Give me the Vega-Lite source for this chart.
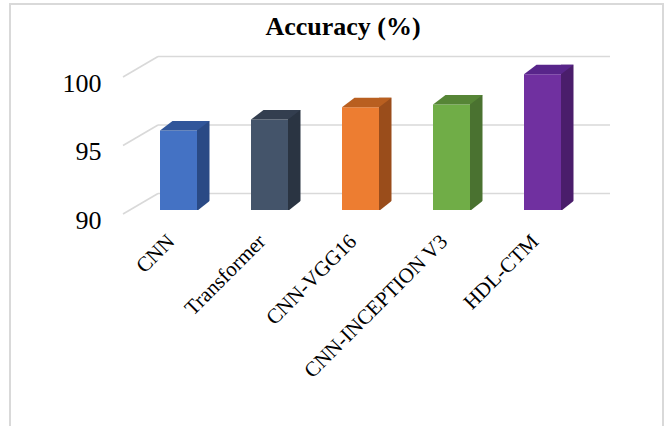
{
  "$schema": "https://vega.github.io/schema/vega-lite/v6.json",
  "autosize": "none",
  "padding": {"left": 10, "top": 4, "right": 2, "bottom": 0},
  "width": 653,
  "height": 430,
  "background": "white",
  "title": {
    "text": "Accuracy (%)",
    "font": "Liberation Serif",
    "fontSize": 26,
    "fontWeight": "bold",
    "color": "#000000",
    "anchor": "middle",
    "frame": "group",
    "offset": 0,
    "dx": 6.5,
    "dy": 36
  },
  "datasets": {
    "models": [
      {"model": "CNN", "accuracy": 95.8},
      {"model": "Transformer", "accuracy": 96.6},
      {"model": "CNN-VGG16", "accuracy": 97.5},
      {"model": "CNN-INCEPTION V3", "accuracy": 97.7},
      {"model": "HDL-CTM", "accuracy": 99.9}
    ],
    "grid": [{"level": 90}, {"level": 95}, {"level": 100}]
  },
  "layer": [
    {
      "description": "back-wall gridlines",
      "data": {"name": "grid"},
      "mark": {"type": "rule", "color": "#d9d9d9", "strokeWidth": 1.6, "xOffset": 25, "x2Offset": 22, "yOffset": -16.5},
      "encoding": {
        "x": {"datum": "CNN", "type": "nominal", "bandPosition": 0,
              "scale": {"domain": ["CNN", "Transformer", "CNN-VGG16", "CNN-INCEPTION V3", "HDL-CTM"],
                        "range": [123, 578], "paddingInner": 0, "paddingOuter": 0}},
        "x2": {"datum": "HDL-CTM", "bandPosition": 1},
        "y": {"field": "level", "type": "quantitative", "title": null,
              "axis": {"values": [90, 95, 100]},
              "scale": {"domain": [90, 100], "range": [206, 69], "nice": false, "zero": false}}
      }
    },
    {
      "description": "side-wall slants of the gridlines",
      "data": {"name": "grid"},
      "mark": {"type": "rule", "color": "#d9d9d9", "strokeWidth": 1.6, "xOffset": -10, "x2Offset": 25, "yOffset": 4, "y2Offset": -16.5},
      "encoding": {
        "x": {"datum": "CNN", "type": "nominal", "bandPosition": 0,
              "scale": {"domain": ["CNN", "Transformer", "CNN-VGG16", "CNN-INCEPTION V3", "HDL-CTM"],
                        "range": [123, 578], "paddingInner": 0, "paddingOuter": 0}},
        "x2": {"datum": "CNN", "bandPosition": 0},
        "y": {"field": "level", "type": "quantitative", "title": null,
              "axis": {"values": [90, 95, 100]},
              "scale": {"domain": [90, 100], "range": [206, 69], "nice": false, "zero": false}},
        "y2": {"field": "level"}
      }
    },
    {
      "description": "right side faces of the columns",
      "data": {"name": "models"},
      "mark": {"type": "bar", "width": 12.5, "xOffset": 24.75, "yOffset": -9.5},
      "encoding": {
        "x": {"field": "model", "type": "nominal", "title": null,
              "scale": {"domain": ["CNN", "Transformer", "CNN-VGG16", "CNN-INCEPTION V3", "HDL-CTM"],
                        "range": [123, 578], "paddingInner": 0, "paddingOuter": 0}},
        "y": {"field": "accuracy", "type": "quantitative", "title": null,
              "axis": {"values": [90, 95, 100]},
              "scale": {"domain": [90, 100], "range": [206, 69], "nice": false, "zero": false}},
        "y2": {"datum": 90},
        "color": {"field": "model", "type": "nominal", "legend": null,
                  "scale": {"domain": ["CNN", "Transformer", "CNN-VGG16", "CNN-INCEPTION V3", "HDL-CTM"],
                            "range": ["#2a4a85", "#2a3442", "#9a4d1b", "#4a7230", "#4a1d6b"]}}
      }
    },
    {
      "description": "front faces of the columns",
      "data": {"name": "models"},
      "mark": {"type": "bar", "width": 37},
      "encoding": {
        "x": {"field": "model", "type": "nominal", "title": null,
              "scale": {"domain": ["CNN", "Transformer", "CNN-VGG16", "CNN-INCEPTION V3", "HDL-CTM"],
                        "range": [123, 578], "paddingInner": 0, "paddingOuter": 0}},
        "y": {"field": "accuracy", "type": "quantitative", "title": null,
              "axis": {"values": [90, 95, 100]},
              "scale": {"domain": [90, 100], "range": [206, 69], "nice": false, "zero": false}},
        "y2": {"datum": 90},
        "color": {"field": "model", "type": "nominal", "legend": null,
                  "scale": {"domain": ["CNN", "Transformer", "CNN-VGG16", "CNN-INCEPTION V3", "HDL-CTM"],
                            "range": ["#4472c4", "#44546a", "#ed7d31", "#70ad47", "#7030a0"]}}
      }
    },
    {
      "description": "top faces of the columns",
      "data": {"name": "models"},
      "mark": {"type": "point", "filled": true, "opacity": 1, "size": 4, "strokeWidth": 0,
               "shape": "M -18.5 0 L 18.5 0 L 31 -9.5 L -6 -9.5 Z"},
      "encoding": {
        "x": {"field": "model", "type": "nominal", "title": null,
              "scale": {"domain": ["CNN", "Transformer", "CNN-VGG16", "CNN-INCEPTION V3", "HDL-CTM"],
                        "range": [123, 578], "paddingInner": 0, "paddingOuter": 0}},
        "y": {"field": "accuracy", "type": "quantitative", "title": null,
              "axis": {"values": [90, 95, 100]},
              "scale": {"domain": [90, 100], "range": [206, 69], "nice": false, "zero": false}},
        "color": {"field": "model", "type": "nominal", "legend": null,
                  "scale": {"domain": ["CNN", "Transformer", "CNN-VGG16", "CNN-INCEPTION V3", "HDL-CTM"],
                            "range": ["#31569a", "#333e4f", "#b95f20", "#568536", "#58258a"]}}
      }
    },
    {
      "description": "trim the lower corner of each side face",
      "data": {"name": "models"},
      "mark": {"type": "point", "filled": true, "opacity": 1, "size": 4, "strokeWidth": 0, "color": "white",
               "shape": "M 18.5 1 L 32 1 L 32 -9.7 Z"},
      "encoding": {
        "x": {"field": "model", "type": "nominal", "title": null,
              "scale": {"domain": ["CNN", "Transformer", "CNN-VGG16", "CNN-INCEPTION V3", "HDL-CTM"],
                        "range": [123, 578], "paddingInner": 0, "paddingOuter": 0}},
        "y": {"datum": 90, "type": "quantitative",
              "scale": {"domain": [90, 100], "range": [206, 69], "nice": false, "zero": false}}
      }
    }
  ],
  "resolve": {"scale": {"color": "independent"}},
  "config": {
    "view": {"stroke": "#d9d9d9", "strokeWidth": 2},
    "axisY": {
      "grid": false,
      "domain": false,
      "ticks": false,
      "tickSize": 0,
      "offset": -93,
      "labelPadding": 2,
      "labelOffset": 10,
      "labelFont": "Liberation Serif",
      "labelFontSize": 26,
      "labelColor": "#000000"
    },
    "axisX": {
      "grid": false,
      "domain": false,
      "ticks": false,
      "tickSize": 0,
      "offset": -198,
      "labelPadding": 2,
      "labelOffset": -7,
      "labelAngle": -45,
      "labelAlign": "right",
      "labelBaseline": "middle",
      "labelLimit": 0,
      "labelFont": "Liberation Serif",
      "labelFontSize": 21,
      "labelColor": "#000000"
    }
  }
}
